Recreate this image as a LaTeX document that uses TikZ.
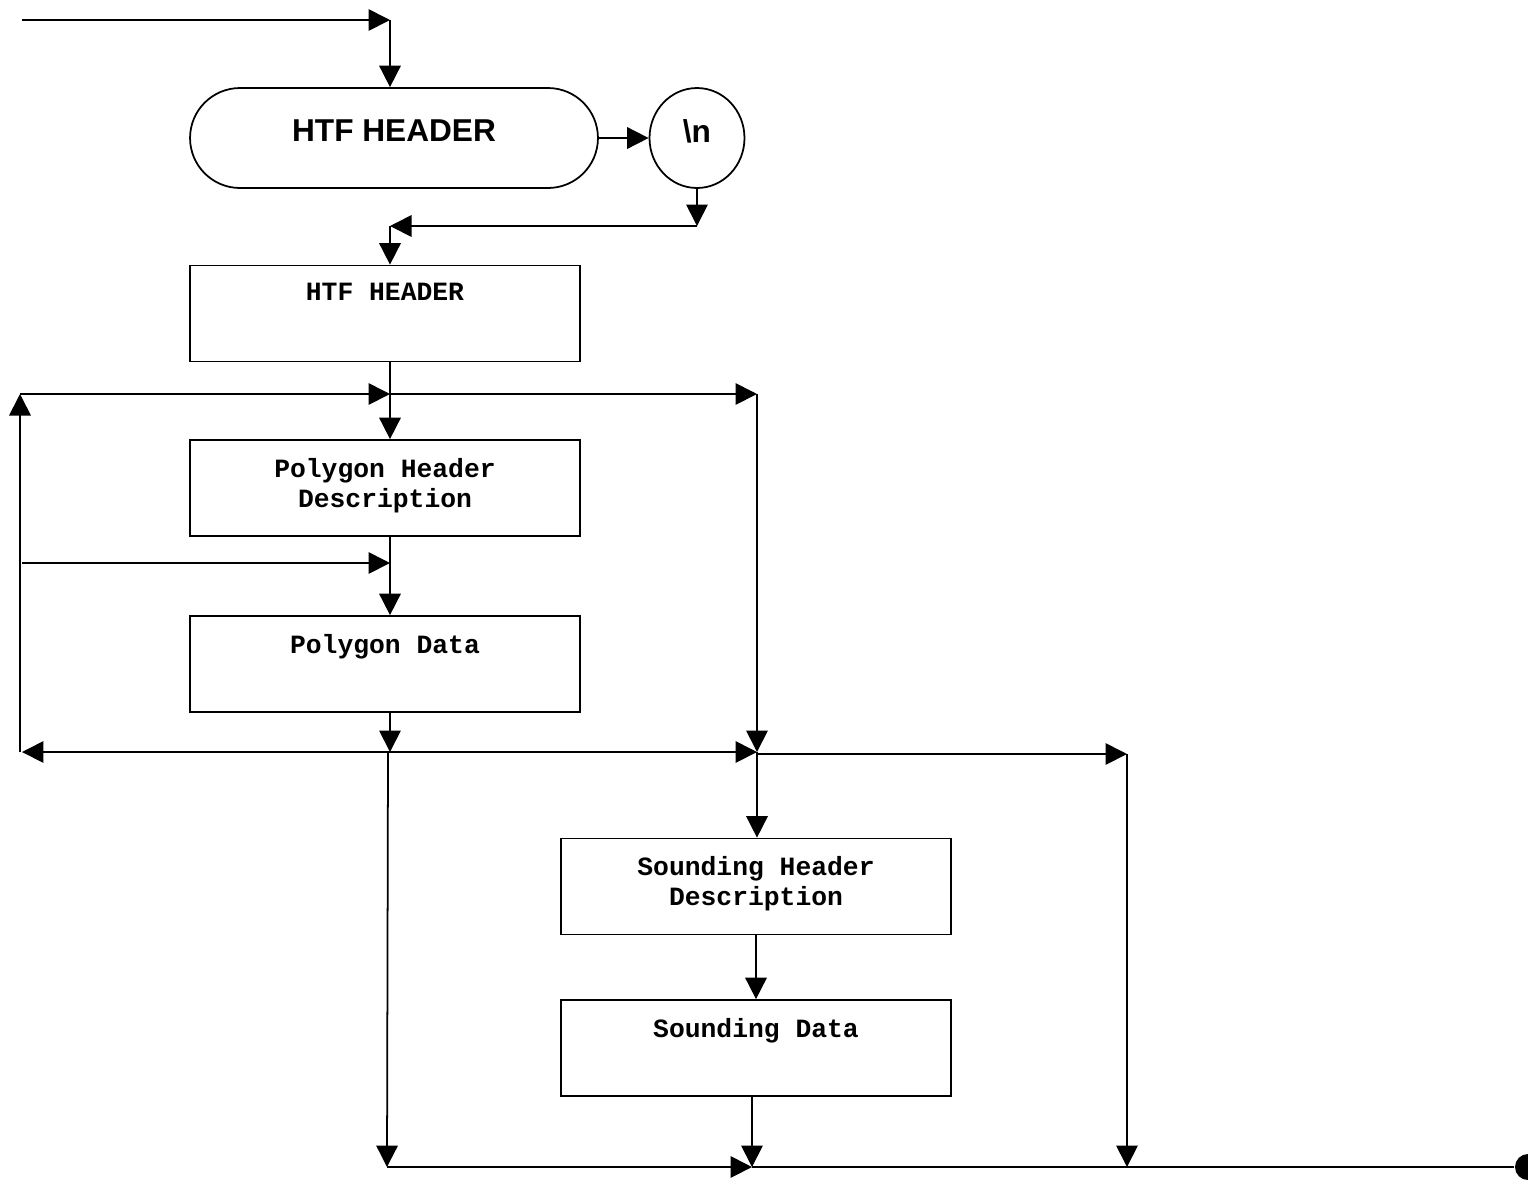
\documentclass[tikz,border=0pt]{standalone}
\usepackage{fontspec}
\newfontfamily\headfont{Liberation Sans}
\newfontfamily\boxfont{Liberation Mono}
\usetikzlibrary{arrows.meta,shapes.geometric}

\begin{document}
\begin{tikzpicture}[
    x=0.02cm, y=-0.02cm, line width=1pt,
    box_style/.style={draw, rectangle, minimum width=7.8cm, minimum height=1.92cm, inner sep=0pt},
    text_style/.style={anchor=north, inner sep=0pt, align=center, font=\boxfont\bfseries\fontsize{15}{17.2}\selectfont},
    term_style/.style={draw, rectangle, rounded corners=1cm, minimum width=8.16cm, minimum height=2cm,
        font=\headfont\bfseries\fontsize{18}{21}\selectfont, text depth=0.28cm},
    circ_style/.style={draw, ellipse, minimum width=1.9cm, minimum height=2cm, inner sep=0pt,
        font=\headfont\bfseries\fontsize{18}{21}\selectfont, text depth=0.28cm},
    dot_style/.style={circle, fill, minimum size=0.52cm, inner sep=0pt},
    edge_style/.style={-{Triangle[length=0.43cm, width=0.43cm]}},
    both_style/.style={{Triangle[length=0.43cm, width=0.43cm]}-{Triangle[length=0.43cm, width=0.43cm]}}
]
\useasboundingbox (0,0) rectangle (1528,1181);
% Header part
\node[term_style] (term) at (394,138) {HTF HEADER};
\node[circ_style] (nl) at (697,138) {\textbackslash n};
\node[box_style] (hdr) at (385,313.5) {};
\node[text_style] (hdrt) at ([yshift=-0.36cm]hdr.north) {HTF HEADER};
% Polygon part
\node[box_style] (phd) at (385,488) {};
\node[text_style] (phdt) at ([yshift=-0.36cm]phd.north) {Polygon Header\\Description};
\node[box_style] (pd) at (385,664) {};
\node[text_style] (pdt) at ([yshift=-0.36cm]pd.north) {Polygon Data};
% Sounding part
\node[box_style] (shd) at (756,886.5) {};
\node[text_style] (shdt) at ([yshift=-0.36cm]shd.north) {Sounding Header\\Description};
\node[box_style] (sd) at (756,1048) {};
\node[text_style] (sdt) at ([yshift=-0.36cm]sd.north) {Sounding Data};
\node[dot_style] (end_dot) at (1528,1167) {};

% junctions
\coordinate (in0) at (22,20);
\coordinate (in1) at (390,20);
\coordinate (a1) at (697,226);
\coordinate (a2) at (390,226);
\coordinate (j1) at (390,394);
\coordinate (l1) at (20,752);
\coordinate (l2) at (20,394);
\coordinate (r1) at (757,394);
\coordinate (r2) at (757,752);
\coordinate (in2) at (22,563);
\coordinate (j2) at (390,563);
\coordinate (j3) at (388,752);
\coordinate (r3) at (1127,754);
\coordinate (b1) at (387,1167);
\coordinate (b2) at (752,1167);
\coordinate (b3) at (1127,1167);

% entry and header
\draw[edge_style] (in0) -- (in1);
\draw[edge_style] (in1) -- (in1 |- term.north);
\draw[edge_style] (term.east) -- (nl.west);
\draw[edge_style] (nl.south) -- (a1);
\draw[edge_style] (a1) -- (a2);
\draw[edge_style] (a2) -- (a2 |- hdr.north);
% polygon loop
\draw[edge_style] (j1 |- hdr.south) -- (j1 |- phd.north);
\draw[edge_style] (l1) -- (l2);
\draw[edge_style] (l2) -- (j1);
\draw[edge_style] (j1) -- (r1);
\draw[edge_style] (r1) -- (r2);
\draw[edge_style] (in2) -- (j2);
\draw[edge_style] (j2 |- phd.south) -- (j2 |- pd.north);
\draw[edge_style] (j2 |- pd.south) -- (j2 |- j3);
\draw[both_style] ([xshift=0.04cm]l1) -- (r2);
% sounding loop
\draw[edge_style] (r2) -- (r2 |- shd.north);
\draw[edge_style] (r2 |- r3) -- (r3);
\draw[edge_style] (r3) -- (b3);
\draw[edge_style] (shd.south) -- (sd.north);
\draw[edge_style] (sd.south -| b2) -- (b2);
\draw[edge_style] (j3) -- (b1);
\draw[edge_style] (b1) -- (b2);
\draw (b2) -- (end_dot);
\end{tikzpicture}
\end{document}
